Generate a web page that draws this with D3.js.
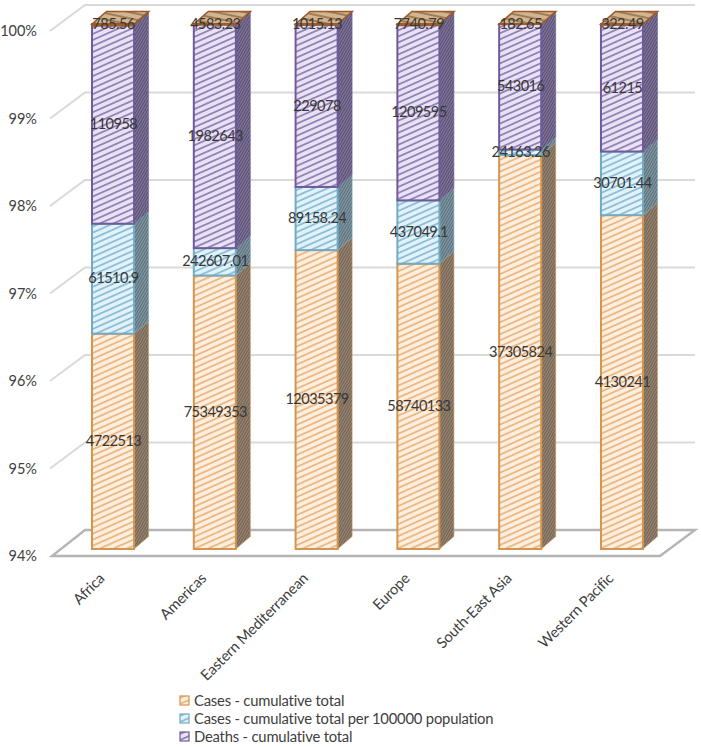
<!DOCTYPE html>
<html><head><meta charset="utf-8">
<script src="https://cdn.jsdelivr.net/npm/d3@7"></script>
<style>html,body{margin:0;padding:0;background:#fff}svg{display:block}text{font-family:Lato,"Open Sans",sans-serif;fill:#404040}</style>
</head><body><svg id="c" width="701" height="747"></svg>
<script>
const categories=["Africa","Americas","Eastern Mediterranean","Europe","South-East Asia","Western Pacific"];
const casesTotal=[4722513,75349353,12035379,58740133,37305824,4130241];
const casesPer100k=[61510.9,242607.01,89158.24,437049.1,24163.26,30701.44];
const deathsTotal=[110958,1982643,229078,1209595,543016,61215];
const deathsPer100k=[785.56,4583.23,1015.13,7740.79,182.65,322.49];
const tickValues=[0.94,0.95,0.96,0.97,0.98,0.99,1];
const legendNames=["Cases - cumulative total","Cases - cumulative total per 100000 population","Deaths - cumulative total"];
const seriesKeys=["a","b","c","d"];
const strokeColors=["#d3954f","#74a9c2","#6f5a9c","#9c5a2a"];
const faceColors=["#feeedd","#e2f2fb","#e9e2f4","#c9a783"];
const stripeColors=["#e6a86c","#74afc9","#7a66a6","#8a6a45"];
const sideBg=["#a08d78","#8ba2ad","#8a7fa2","#8a6a45"];
const sideFg=["#6e5f50","#566b75","#554a70","#6e5030"];
const data=categories.map((category,i)=>({category,a:casesTotal[i],b:casesPer100k[i],c:deathsTotal[i],d:deathsPer100k[i]}));
const stacked=d3.stack().keys(seriesKeys).offset(d3.stackOffsetExpand)(data);

const y=d3.scaleLinear().domain([0.94,1]).range([549,24]).clamp(true);
const x=d3.scaleBand().domain(categories).range([62.5,672.5]).paddingInner(0.587).paddingOuter(0.29);
const dx=14.5,dy=12.5;         // bar depth offset
const wallLeft=85,floorLeft=52,wallRight=695,floorRight=660,skew=26;
const svg=d3.select("#c");
const defs=svg.append("defs");
function pat(id,bg,fg,size,w,angle){
  const p=defs.append("pattern").attr("id",id).attr("patternUnits","userSpaceOnUse")
    .attr("width",size).attr("height",size).attr("patternTransform",`rotate(${angle})`);
  p.append("rect").attr("width",size).attr("height",size).attr("fill",bg);
  p.append("line").attr("x1",0).attr("x2",size).attr("y1",size/2).attr("y2",size/2)
    .attr("stroke",fg).attr("stroke-width",w);
}
seriesKeys.forEach((k,i)=>{
  pat("f"+i,faceColors[i],stripeColors[i],5.5,1.4,-24);
  pat("s"+i,sideBg[i],sideFg[i],2.3,1.2,-60);
  pat("t"+i,"#d4b48c","#8d6b46",6,1.5,12);
});
// walls and floor
const grid=svg.append("g").attr("fill","none").attr("stroke","#d9d9d9").attr("stroke-width",2);
const backY=v=>y(v)-19;
tickValues.forEach(v=>{
  if(v===0.94)return;
  grid.append("path").attr("d",`M50,${backY(v)+skew} L${wallLeft},${backY(v)} L${wallRight},${backY(v)}`);
});
svg.append("path").attr("fill","none").attr("stroke","#b5b5b5").attr("stroke-width",2.4)
  .attr("d",`M${wallLeft},${backY(0.94)} L${wallRight},${backY(0.94)} L${floorRight},${backY(0.94)+skew} L${floorLeft},${backY(0.94)+skew} Z`);
// axis labels
svg.append("g").selectAll("text").data(tickValues).join("text")
  .attr("x",37).attr("y",v=>backY(v)+skew).attr("dy","0.35em").attr("text-anchor","end")
  .attr("font-size",14.5).text(d3.format(".0%"));
// bars
const bw=x.bandwidth();
stacked.forEach((s,i)=>{
  const g=svg.append("g");
  s.forEach((d,j)=>{
    const x0=x(categories[j]),yT=y(d[1]),yB=y(d[0]);
    if(i===stacked.length-1){
      g.append("path").attr("d",`M${x0},${yT} l${dx},${-dy} h${bw} l${-dx},${dy} Z`)
       .attr("fill",`url(#t${i})`).attr("stroke",strokeColors[i]).attr("stroke-width",1.6);
    }
    g.append("path").attr("d",`M${x0+bw},${yT} l${dx},${-dy} V${yB-dy} l${-dx},${dy} Z`)
     .attr("fill",`url(#s${i})`).attr("stroke",strokeColors[i]).attr("stroke-opacity",.55).attr("stroke-width",1);
    g.append("rect").attr("x",x0).attr("y",yT).attr("width",bw).attr("height",Math.max(0,yB-yT))
     .attr("fill",`url(#f${i})`).attr("stroke",strokeColors[i]).attr("stroke-width",2);
  });
});
// data labels
stacked.forEach((s,i)=>{
  svg.append("g").selectAll("text").data(s).join("text")
   .attr("x",(d,j)=>x(categories[j])+bw/2+0.5)
   .attr("y",d=>y((d3.max([d[0],0.94])+d[1])/2))
   .attr("dy","0.32em").attr("text-anchor","middle").attr("font-size",14.6)
   .style("letter-spacing","-0.55px").style("fill","#383838")
   .text((d,j)=>d.data[seriesKeys[i]]);
});
// category labels
svg.append("g").selectAll("text").data(categories).join("text")
  .attr("text-anchor","end").attr("font-size",14.8).style("letter-spacing","-0.2px")
  .attr("transform",d=>`translate(${x(d)+bw/2-15},${572}) rotate(-45)`)
  .attr("dy","0.7em").text(d=>d);
// legend
const leg=svg.append("g").selectAll("g").data(legendNames).join("g")
  .attr("transform",(d,i)=>`translate(180,${701+i*18})`);
leg.append("rect").attr("x",0).attr("y",-5).attr("width",9).attr("height",9)
  .attr("fill",(d,i)=>`url(#f${i})`).attr("stroke",(d,i)=>strokeColors[i]).attr("stroke-width",1.2);
leg.append("text").attr("x",14).attr("y",0).attr("dy","0.35em").attr("font-size",14.8).style("letter-spacing","-0.2px").text(d=>d);
</script></body></html>
